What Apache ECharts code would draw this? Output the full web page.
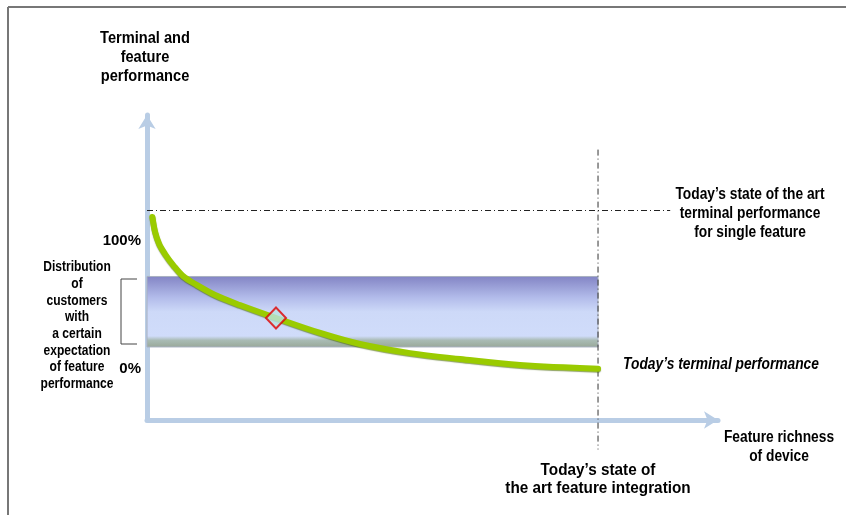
<!DOCTYPE html>
<html>
<head>
<meta charset="utf-8">
<title>Terminal and feature performance</title>
<script src="https://cdn.jsdelivr.net/npm/echarts@6/dist/echarts.min.js"></script>
<style>
  html, body { margin: 0; padding: 0; background: #ffffff; }
  #chart { width: 846px; height: 515px; }
</style>
</head>
<body>
<div id="chart"></div>
<script>
// Feature richness (today's integration = 100) vs. terminal performance (%)
var curveX = [1.2, 1.8, 2.7, 4.0, 5.8, 8.0, 11.1, 15.1, 20.6, 28.6, 38.4, 47.2, 58.3, 69.4, 82.7, 100];
var curveY = [118.4, 106.7, 97.3, 89.5, 80.9, 72.3, 65.3, 57.5, 49.7, 39.6, 27.9, 19.3, 12.2, 7.6, 2.9, 0];

// Customer expectation band (lower / upper performance %)
var bandLow = 17;
var bandHigh = 72;

// Reference levels
var stateOfArtPerformance = 123.3;
var stateOfArtIntegration = 100;
var integrationGuideY = [171, -63];

// Highlighted point on the curve
var markerPoint = [28.6, 39.6];

// Y tick labels
var yTicks = [0, 100];
var yTickLabels = ['0%', '100%'];

var FONT = '"Liberation Sans Narrow", "Arial Narrow", "Liberation Sans", Arial, sans-serif';
var AXIS_BLUE = '#b9cde5';
var NARROW = 0.86;

var chart = echarts.init(document.getElementById('chart'), null, { renderer: 'canvas' });

var curveData = curveX.map(function (x, i) { return [x, curveY[i]]; });
var guideData = integrationGuideY.map(function (y) { return [stateOfArtIntegration, y]; });

function label(x, y, text, size, lineHeight, italic, scale) {
  return {
    type: 'text', x: x, y: y, scaleX: scale || NARROW, z: 10,
    style: {
      text: text,
      font: (italic ? 'italic ' : '') + 'bold ' + size + 'px ' + FONT,
      fill: '#000', align: 'center', lineHeight: lineHeight
    }
  };
}

var option = {
  animation: false,
  backgroundColor: '#ffffff',
  grid: { left: 147, top: 115, right: 128, bottom: 95, containLabel: false },
  xAxis: {
    type: 'value',
    min: 0,
    max: 126.6,
    splitLine: { show: false },
    axisTick: { show: false },
    axisLabel: { show: false },
    axisLine: {
      show: true,
      onZero: false,
      symbol: ['none', 'arrow'],
      symbolSize: [13, 14],
      lineStyle: { color: AXIS_BLUE, width: 5 }
    }
  },
  yAxis: {
    type: 'value',
    min: -40,
    max: 198,
    interval: 20,
    splitLine: { show: false },
    axisTick: { show: false },
    axisLine: {
      show: true,
      onZero: false,
      symbol: ['none', 'arrow'],
      symbolSize: [13, 14],
      lineStyle: { color: AXIS_BLUE, width: 5 }
    },
    axisLabel: {
      margin: 6,
      fontFamily: FONT,
      fontWeight: 'bold',
      fontSize: 15,
      color: '#000',
      formatter: function (v) {
        var i = yTicks.indexOf(v);
        return i >= 0 ? yTickLabels[i] : '';
      }
    }
  },
  series: [
    {
      type: 'line',
      name: 'Terminal performance',
      data: curveData,
      smooth: 0.35,
      showSymbol: false,
      clip: false,
      z: 3,
      lineStyle: {
        color: '#9acb00',
        width: 6,
        cap: 'round',
        join: 'round',
        shadowColor: 'rgba(70,100,0,0.6)',
        shadowBlur: 1,
        shadowOffsetY: 1
      },
      markArea: {
        silent: true,
        z: 1,
        itemStyle: {
          borderColor: '#a8b0c0',
          borderWidth: 1,
          color: {
            type: 'linear', x: 0, y: 0, x2: 0, y2: 1,
            colorStops: [
              { offset: 0.00, color: '#8284c4' },
              { offset: 0.30, color: '#b2bbea' },
              { offset: 0.50, color: '#cdd9f8' },
              { offset: 0.84, color: '#d0dcfa' },
              { offset: 0.90, color: '#a9bbb4' },
              { offset: 1.00, color: '#98a898' }
            ]
          }
        },
        data: [[{ coord: [0, bandHigh] }, { coord: [stateOfArtIntegration, bandLow] }]]
      },
      markLine: {
        silent: true,
        symbol: ['none', 'none'],
        label: { show: false },
        lineStyle: { color: '#222', width: 1, type: [6, 3, 1, 3] },
        data: [
          [{ coord: [0, stateOfArtPerformance] }, { coord: [116, stateOfArtPerformance] }]
        ]
      }
    },
    {
      type: 'line',
      name: 'Feature integration guide',
      data: guideData,
      showSymbol: false,
      clip: false,
      silent: true,
      z: 2,
      lineStyle: { color: '#333', width: 1, type: [6, 3, 1, 3] }
    },
    {
      type: 'scatter',
      name: 'Expectation point',
      data: [markerPoint],
      symbol: 'diamond',
      symbolSize: [20, 21],
      z: 5,
      itemStyle: { color: '#b9e2e2', borderColor: '#e00000', borderWidth: 2 }
    }
  ],
  graphic: [
    // frame edges
    { type: 'line', shape: { x1: 8, y1: 7, x2: 846, y2: 7 }, style: { stroke: '#777', lineWidth: 2 } },
    { type: 'line', shape: { x1: 8, y1: 7, x2: 8, y2: 515 }, style: { stroke: '#777', lineWidth: 2 } },
    // bracket for the distribution band
    {
      type: 'polyline',
      shape: { points: [[137, 279], [121, 279], [121, 344], [137, 344]] },
      style: { stroke: '#444', lineWidth: 1, fill: null }
    },
    label(145, 29, 'Terminal and\nfeature\nperformance', 17, 19),
    label(77, 259, 'Distribution\nof\ncustomers\nwith\na certain\nexpectation\nof feature\nperformance', 14, 16.7),
    label(750, 185, 'Today\u2019s state of the art\nterminal performance\nfor single feature', 16, 19),
    label(721, 355, 'Today\u2019s terminal performance', 16, 19, true),
    label(779, 428, 'Feature richness\nof device', 16, 19),
    label(598, 461, 'Today\u2019s state of\nthe art feature integration', 17, 18.5, false, 0.9)
  ]
};

chart.setOption(option);
</script>
</body>
</html>
